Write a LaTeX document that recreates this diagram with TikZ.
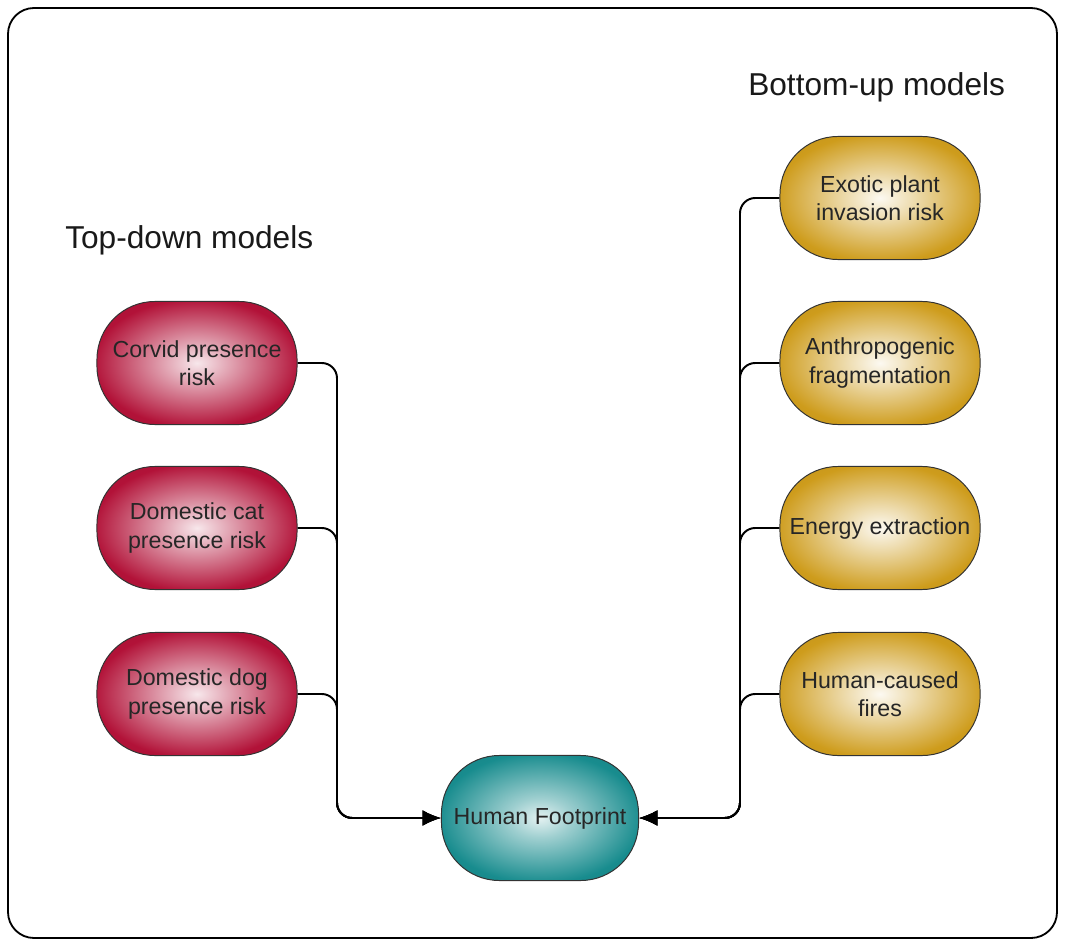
\documentclass[tikz,border=0pt]{standalone}
\usepackage{fontspec}
\setmainfont{Liberation Sans}
\usetikzlibrary{arrows.meta}
\usepackage{xcolor}

\definecolor{redmain}{RGB}{178,18,56}
\definecolor{goldmain}{RGB}{206,156,28}
\definecolor{tealmain}{RGB}{24,140,142}
\pgfdeclareradialshading{redglow}{\pgfpoint{0bp}{0bp}}{color(0bp)=(white!90!redmain); color(8bp)=(white!62!redmain); color(26bp)=(redmain); color(50bp)=(redmain!82!black)}
\pgfdeclareradialshading{goldglow}{\pgfpoint{0bp}{0bp}}{color(0bp)=(white!94!goldmain); color(8bp)=(white!66!goldmain); color(26bp)=(goldmain); color(50bp)=(goldmain!82!black)}
\pgfdeclareradialshading{tealglow}{\pgfpoint{0bp}{0bp}}{color(0bp)=(white!88!tealmain); color(8bp)=(white!58!tealmain); color(26bp)=(tealmain); color(50bp)=(tealmain!78!black)}

\begin{document}
\begin{tikzpicture}[
  x=0.025cm, y=-0.025cm,
  font=\fontsize{16.5}{20}\selectfont,
  model/.style={draw=black!80, line width=0.7pt, rounded corners=1.45cm, align=center,
    text=black!85, minimum width=5cm, minimum height=3.075cm, inner sep=2pt},
  topdown/.style={model, shading=redglow},
  bottomup/.style={model, shading=goldglow},
  target/.style={model, shading=tealglow, minimum width=4.925cm, minimum height=3.125cm},
  title/.style={anchor=west, font=\fontsize{22.5}{26}\selectfont, text=black!90, inner sep=0pt},
  arrow/.style={-{Latex[length=13pt, width=11pt]}, line width=1.4pt, rounded corners=0.38cm}
]
\useasboundingbox (0,0) rectangle (1065,945);
\draw[line width=1.3pt, rounded corners=0.65cm] (8,8) rectangle (1057,938);

\node[title] (tdtitle) at (65,240) {Top-down models};
\node[title] (butitle) at (748,87) {Bottom-up models};

\node[topdown] (corvid) at (197,363) {Corvid presence\\risk};
\node[topdown] (cat) at (197,528) {Domestic cat\\presence risk};
\node[topdown] (dog) at (197,694) {Domestic dog\\presence risk};

\node[bottomup] (exotic) at (880,198) {Exotic plant\\invasion risk};
\node[bottomup] (frag) at (880,363) {Anthropogenic\\fragmentation};
\node[bottomup] (energy) at (880,528) {Energy extraction};
\node[bottomup] (fires) at (880,694) {Human-caused\\fires};

\node[target] (hf) at (540,818) {Human Footprint};

\coordinate (jl) at (337,818);
\coordinate (jr) at (740,818);

\draw[arrow] (corvid.east) -| (jl) -- (hf.west);
\draw[arrow] (cat.east) -| (jl) -- (hf.west);
\draw[arrow] (dog.east) -| (jl) -- (hf.west);

\draw[arrow] (exotic.west) -| (jr) -- (hf.east);
\draw[arrow] (frag.west) -| (jr) -- (hf.east);
\draw[arrow] (energy.west) -| (jr) -- (hf.east);
\draw[arrow] (fires.west) -| (jr) -- (hf.east);

\end{tikzpicture}
\end{document}
